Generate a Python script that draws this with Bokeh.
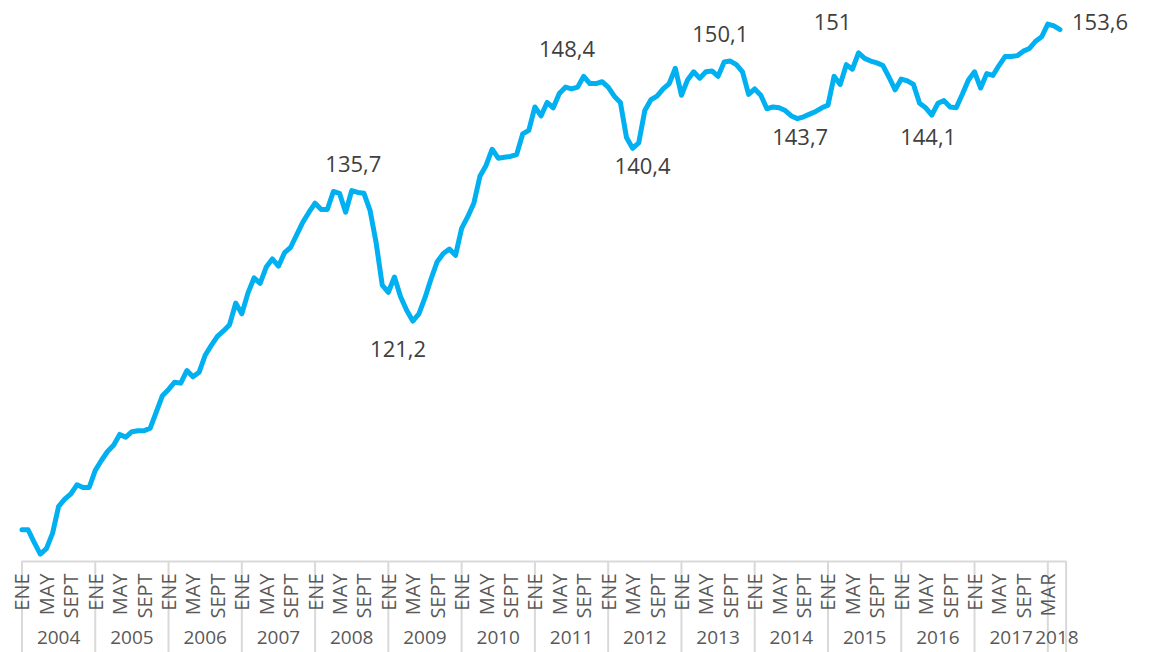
import math
from bokeh.plotting import figure
from bokeh.models import Range1d, LinearAxis, FixedTicker, Label
from bokeh.embed import file_html
from bokeh.resources import INLINE

# Monthly index, Jan 2004 .. Mar 2018 (position 0 = ENE 2004)
VALUES = [
    98.0, 98.0, 96.6, 95.3, 95.9, 97.6, 100.6, 101.4, 102.0, 103.0, 102.7, 102.7,
    104.6, 105.7, 106.7, 107.4, 108.6, 108.3, 108.9, 109.0, 109.0, 109.3, 111.1, 112.9,
    113.6, 114.4, 114.3, 115.7, 115.0, 115.5, 117.4, 118.5, 119.5, 120.1, 120.8, 123.2,
    122.0, 124.3, 126.0, 125.4, 127.2, 128.1, 127.3, 128.8, 129.4, 130.8, 132.2, 133.3,
    134.3, 133.6, 133.6, 135.6, 135.4, 133.3, 135.7, 135.5, 135.4, 133.5, 129.9, 125.2,
    124.4, 126.1, 123.9, 122.4, 121.2, 122.0, 123.8, 125.9, 127.8, 128.7, 129.2, 128.5,
    131.5, 132.8, 134.3, 137.3, 138.5, 140.3, 139.3, 139.4, 139.5, 139.7, 142.0, 142.4,
    145.0, 144.0, 145.5, 144.9, 146.5, 147.2, 147.0, 147.2, 148.4, 147.6, 147.6, 147.8,
    147.2, 146.2, 145.5, 141.6, 140.4, 141.0, 144.6, 145.8, 146.2, 147.0, 147.6, 149.3,
    146.3, 148.0, 148.9, 148.2, 148.9, 149.0, 148.4, 150.0, 150.1, 149.7, 148.9, 146.4,
    147.0, 146.3, 144.8, 145.0, 144.9, 144.6, 144.0, 143.7, 143.9, 144.2, 144.5, 144.9,
    145.2, 148.4, 147.5, 149.7, 149.2, 151.0, 150.4, 150.1, 149.9, 149.6, 148.3, 146.9,
    148.1, 147.9, 147.5, 145.4, 144.9, 144.1, 145.4, 145.7, 145.0, 144.9, 146.4, 148.0,
    148.9, 147.1, 148.7, 148.5, 149.6, 150.6, 150.6, 150.7, 151.2, 151.5, 152.3, 152.8,
    154.2, 154.0, 153.6,
]
X = list(range(len(VALUES)))

YEARS = ["2004", "2005", "2006", "2007", "2008", "2009", "2010", "2011",
         "2012", "2013", "2014", "2015", "2016", "2017", "2018"]
YEAR_START = [0, 12, 24, 36, 48, 60, 72, 84, 96, 108, 120, 132, 144, 156, 168]
AXIS_END = 171

TICK_POS = list(range(0, 169, 4))
TICK_LABELS = ["ENE", "MAY", "SEPT"] * 14 + ["MAR"]

ANNOT_IDX = [54, 64, 92, 100, 116, 127, 137, 149, 170]
ANNOT_TEXT = ["135,7", "121,2", "148,4", "140,4", "150,1", "143,7", "151", "144,1", "153,6"]

LINE_COLOR = "#00B0F0"
GRID_COLOR = "#D9D9D9"
AXIS_TEXT = "#595959"
ANNOT_COLOR = "#404040"
FONT = "Open Sans"

X_LEFT, X_RIGHT = -3.52, 184.0      # visible category span of the frame
Y_TOP, Y_BOTTOM = 156.83, 84.36     # visible value range of the frame
AXIS_AT = 94.48                     # where the category axis line sits
YEAR_AXIS_AT = 87.85                # where the year-group labels hang from

p = figure(width=1145, height=652,
           x_range=Range1d(X_LEFT, X_RIGHT), y_range=Range1d(Y_BOTTOM, Y_TOP),
           x_axis_type=None, y_axis_type=None,
           output_backend="svg", toolbar_location=None,
           min_border_left=0, min_border_right=0, min_border_top=0, min_border_bottom=0)
p.outline_line_color = None
p.background_fill_color = "white"
p.border_fill_color = "white"

# group separators below the axis line
seps = YEAR_START + [AXIS_END]
p.segment(x0=seps, y0=[AXIS_AT] * len(seps), x1=seps, y1=[Y_BOTTOM] * len(seps),
          line_color=GRID_COLOR, line_width=2)

p.line(X, VALUES, line_color=LINE_COLOR, line_width=5, line_join="round", line_cap="round")

ax = LinearAxis(ticker=FixedTicker(ticks=TICK_POS), fixed_location=AXIS_AT,
                bounds=(0, AXIS_END))
ax.major_label_overrides = {t: lab for t, lab in zip(TICK_POS, TICK_LABELS)}
ax.major_label_orientation = math.pi / 2
ax.major_tick_in = 0
ax.major_tick_out = 0
ax.minor_tick_in = 0
ax.minor_tick_out = 0
ax.axis_line_color = GRID_COLOR
ax.axis_line_width = 2
ax.major_label_standoff = 12
ax.major_label_text_font = FONT
ax.major_label_text_font_size = "20px"
ax.major_label_text_color = AXIS_TEXT
p.add_layout(ax, "below")

year_ends = YEAR_START[1:] + [AXIS_END]
year_mid = [(s + e) / 2 for s, e in zip(YEAR_START, year_ends)]
yax = LinearAxis(ticker=FixedTicker(ticks=year_mid), fixed_location=YEAR_AXIS_AT)
yax.major_label_overrides = {t: y for t, y in zip(year_mid, YEARS)}
yax.axis_line_color = None
yax.major_tick_line_color = None
yax.minor_tick_line_color = None
yax.major_label_standoff = 4
yax.major_label_text_font = FONT
yax.major_label_text_font_size = "19px"
yax.major_label_text_color = AXIS_TEXT
p.add_layout(yax, "below")

# value annotations (screen offsets from the annotated point)
OFFSETS = [(1.6, 27), (-14.7, -28.4), (-16.7, 27.8), (10, -18), (-10, 27.5),
           (2.7, -18), (-26, 31), (-3.6, -21.5), (12, 8)]
for i, txt, (dx, dy) in zip(ANNOT_IDX, ANNOT_TEXT, OFFSETS):
    p.add_layout(Label(x=X[i], y=VALUES[i], text=txt, x_offset=dx, y_offset=dy,
                       text_align="left" if i == ANNOT_IDX[-1] else "center",
                       text_baseline="middle", text_font=FONT, text_font_size="22px",
                       text_color=ANNOT_COLOR))

open("out.html", "w").write(file_html(p, INLINE))
